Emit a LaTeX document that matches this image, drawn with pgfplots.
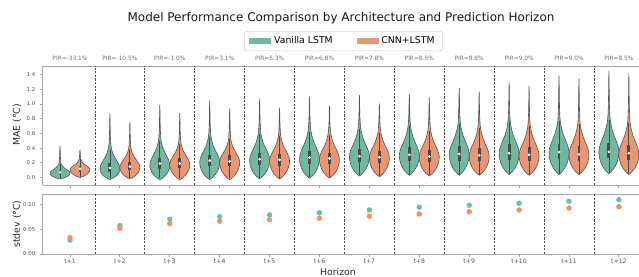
\documentclass[border=0pt]{standalone}
\usepackage{fontspec}
\setmainfont{DejaVu Sans}
\usepackage{pgfplots}
\usepackage{pgfplotstable}
\pgfplotsset{compat=1.18}
\definecolor{vgreen}{HTML}{72B7A1}
\definecolor{vorange}{HTML}{E99675}
\definecolor{sgreen}{HTML}{66C2A5}
\definecolor{sorange}{HTML}{FC8D62}
\definecolor{vedge}{HTML}{555555}
\definecolor{vbox}{HTML}{4A4A4A}
\definecolor{spine}{HTML}{A8A8A8}
\definecolor{tlab}{HTML}{555555}

% violin profile: s = side, w = relative half width, y = a*L + b*P + c*U + d*T
\pgfplotstableread{
s w a b c d
1 0 1 0 0 0
1 0.28 0.88 0.12 0 0
1 0.58 0.7 0.3 0 0
1 0.80 0.5 0.5 0 0
1 0.93 0.3 0.7 0 0
1 0.985 0.15 0.85 0 0
1 1 0 1 0 0
1 0.95 0 0.88 0.12 0
1 0.80 0 0.75 0.25 0
1 0.58 0 0.6 0.4 0
1 0.38 0 0.45 0.55 0
1 0.24 0 0.3 0.7 0
1 0.14 0 0.15 0.85 0
1 0.09 0 0 1 0
1 0.05 0 0 0.75 0.25
1 0.032 0 0 0.5 0.5
1 0.018 0 0 0.2 0.8
1 0 0 0 0 1
-1 0.018 0 0 0.2 0.8
-1 0.032 0 0 0.5 0.5
-1 0.05 0 0 0.75 0.25
-1 0.09 0 0 1 0
-1 0.14 0 0.15 0.85 0
-1 0.24 0 0.3 0.7 0
-1 0.38 0 0.45 0.55 0
-1 0.58 0 0.6 0.4 0
-1 0.80 0 0.75 0.25 0
-1 0.95 0 0.88 0.12 0
-1 1 0 1 0 0
-1 0.985 0.15 0.85 0 0
-1 0.93 0.3 0.7 0 0
-1 0.80 0.5 0.5 0 0
-1 0.58 0.7 0.3 0 0
-1 0.28 0.88 0.12 0 0
-1 0 1 0 0 0
}\vtemplate

\pgfplotstableread{
x y
0 0.028
1 0.057
2 0.070
3 0.075
4 0.0785
5 0.083
6 0.0885
7 0.094
8 0.098
9 0.102
10 0.106
11 0.109
}\sdgreen
\pgfplotstableread{
x y
0 0.033
1 0.052
2 0.061
3 0.066
4 0.069
5 0.072
6 0.076
7 0.0805
8 0.085
9 0.0885
10 0.0925
11 0.095
}\sdorange

% #1 centre, #2 colour, #3 bottom, #4 widest, #5 body top, #6 tail top
\newcommand{\vio}[6]{\addplot[draw=vedge, line width=0.45pt, fill=#2] table[x expr={#1+0.2*\thisrow{s}*\thisrow{w}}, y expr={\thisrow{a}*(#3)+\thisrow{b}*(#4)+\thisrow{c}*(#5)+\thisrow{d}*(#6)}]{\vtemplate};}
% #1 centre, #2 whisker low, #3 q1, #4 median, #5 q3, #6 whisker high
\newcommand{\vbx}[6]{%
\addplot[draw=vbox, line width=0.6pt] coordinates {(#1,#2) (#1,#6)};
\addplot[draw=vbox, line width=2.2pt] coordinates {(#1,#3) (#1,#5)};
\addplot[only marks, mark=*, mark size=0.8pt, draw=white, fill=white] coordinates {(#1,#4)};}

\pgfplotsset{
  common/.style={
    scale only axis, width=447pt,
    xmin=-0.541, xmax=11.403,
    axis x line*=box, axis y line*=left, separate axis lines,
    axis line style={-, draw=spine, line width=0.75pt},
    xtick={0,...,11}, xtick pos=bottom, ytick pos=left,
    tick align=outside, major tick length=2.2pt,
    tick style={draw=spine, line width=0.6pt},
    extra x ticks={0.5,1.5,...,10.5}, extra x tick labels={},
    extra x tick style={grid=major, major tick length=0pt,
      major grid style={draw=black!70, dash pattern=on 1.6pt off 1.1pt, line width=0.6pt}},
    /pgf/number format/assume math mode=true,
    yticklabel style={font=\fontsize{4.1}{5}\selectfont, text=tlab},
    xticklabel style={font=\fontsize{4.6}{5.5}\selectfont, text=tlab, inner sep=1.5pt},
    clip=false,
  }
}

\begin{document}
\begin{tikzpicture}
\begin{axis}[common,
  at={(32.25pt,68.25pt)}, anchor=south west, height=89.25pt,
  ymin=-0.102, ymax=1.517,
  ytick={0,0.2,...,1.4}, xticklabels={},
  yticklabel style={/pgf/number format/.cd, fixed, fixed zerofill, precision=1},
  legend style={at={(0.504,1)}, anchor=south, yshift=11.2pt, legend columns=2,
    draw=black!18, rounded corners=1.5pt, font=\fontsize{7}{8}\selectfont,
    inner xsep=3.8pt, inner ysep=1.8pt,
    /tikz/every even column/.append style={column sep=16pt}},
  legend image code/.code={\fill[#1, draw=none, sharp corners] (0pt,-2.3pt) rectangle (16.5pt,2.3pt);},
]
\addlegendimage{fill=vgreen}
\addlegendentry{Vanilla LSTM}
\addlegendimage{fill=vorange}
\addlegendentry{CNN+LSTM}

\vio{-0.2}{vgreen}{-0.02}{0.06}{0.20}{0.43}
\vio{0.8}{vgreen}{-0.03}{0.12}{0.45}{0.87}
\vio{1.8}{vgreen}{-0.03}{0.17}{0.55}{0.99}
\vio{2.8}{vgreen}{-0.03}{0.21}{0.60}{1.05}
\vio{3.8}{vgreen}{-0.02}{0.24}{0.65}{1.07}
\vio{4.8}{vgreen}{-0.01}{0.26}{0.70}{1.10}
\vio{5.8}{vgreen}{0.02}{0.29}{0.72}{1.125}
\vio{6.8}{vgreen}{0.03}{0.30}{0.75}{1.14}
\vio{7.8}{vgreen}{0.03}{0.32}{0.78}{1.22}
\vio{8.8}{vgreen}{0.04}{0.33}{0.80}{1.30}
\vio{9.8}{vgreen}{0.04}{0.34}{0.82}{1.385}
\vio{10.8}{vgreen}{0.05}{0.35}{0.85}{1.45}

\vio{0.2}{vorange}{0.00}{0.11}{0.25}{0.38}
\vio{1.2}{vorange}{-0.02}{0.14}{0.42}{0.76}
\vio{2.2}{vorange}{-0.03}{0.18}{0.50}{0.875}
\vio{3.2}{vorange}{-0.03}{0.21}{0.55}{0.94}
\vio{4.2}{vorange}{-0.02}{0.23}{0.60}{0.95}
\vio{5.2}{vorange}{-0.01}{0.25}{0.65}{0.975}
\vio{6.2}{vorange}{0.01}{0.27}{0.68}{1.01}
\vio{7.2}{vorange}{0.02}{0.28}{0.70}{1.09}
\vio{8.2}{vorange}{0.03}{0.29}{0.73}{1.17}
\vio{9.2}{vorange}{0.03}{0.30}{0.75}{1.25}
\vio{10.2}{vorange}{0.04}{0.31}{0.78}{1.35}
\vio{11.2}{vorange}{0.04}{0.32}{0.80}{1.42}

\vbx{-0.2}{0.0}{0.04}{0.07}{0.10}{0.19}
\vbx{0.8}{0.0}{0.08}{0.13}{0.20}{0.38}
\vbx{1.8}{0.0}{0.12}{0.19}{0.27}{0.495}
\vbx{2.8}{0.0}{0.15}{0.23}{0.31}{0.55}
\vbx{3.8}{0.0}{0.17}{0.25}{0.34}{0.595}
\vbx{4.8}{0.01}{0.19}{0.27}{0.36}{0.615}
\vbx{5.8}{0.03}{0.21}{0.29}{0.39}{0.66}
\vbx{6.8}{0.04}{0.22}{0.31}{0.41}{0.695}
\vbx{7.8}{0.04}{0.23}{0.32}{0.43}{0.73}
\vbx{8.8}{0.05}{0.24}{0.33}{0.45}{0.765}
\vbx{9.8}{0.05}{0.25}{0.345}{0.46}{0.775}
\vbx{10.8}{0.06}{0.26}{0.35}{0.47}{0.785}

\vbx{0.2}{0.01}{0.08}{0.12}{0.15}{0.255}
\vbx{1.2}{0.0}{0.10}{0.15}{0.21}{0.375}
\vbx{2.2}{0.0}{0.13}{0.19}{0.26}{0.455}
\vbx{3.2}{0.0}{0.15}{0.22}{0.30}{0.525}
\vbx{4.2}{0.0}{0.16}{0.24}{0.32}{0.56}
\vbx{5.2}{0.01}{0.18}{0.26}{0.34}{0.58}
\vbx{6.2}{0.02}{0.20}{0.275}{0.36}{0.60}
\vbx{7.2}{0.03}{0.21}{0.285}{0.38}{0.635}
\vbx{8.2}{0.04}{0.22}{0.30}{0.40}{0.67}
\vbx{9.2}{0.04}{0.23}{0.31}{0.42}{0.705}
\vbx{10.2}{0.05}{0.23}{0.315}{0.43}{0.73}
\vbx{11.2}{0.05}{0.24}{0.33}{0.44}{0.74}

\begin{scope}[every node/.style={font=\fontsize{4.4}{5}\selectfont, text=black!55}]
\node at (axis cs:0,1.626) {PIR=-33.1\%};
\node at (axis cs:1,1.626) {PIR=-10.5\%};
\node at (axis cs:2,1.626) {PIR=-1.0\%};
\node at (axis cs:3,1.626) {PIR=3.1\%};
\node at (axis cs:4,1.626) {PIR=5.3\%};
\node at (axis cs:5,1.626) {PIR=6.8\%};
\node at (axis cs:6,1.626) {PIR=7.8\%};
\node at (axis cs:7,1.626) {PIR=8.5\%};
\node at (axis cs:8,1.626) {PIR=8.8\%};
\node at (axis cs:9,1.626) {PIR=9.0\%};
\node at (axis cs:10,1.626) {PIR=9.0\%};
\node at (axis cs:11,1.626) {PIR=8.5\%};
\end{scope}
\end{axis}

\begin{axis}[common,
  at={(32.25pt,16.5pt)}, anchor=south west, height=44.78pt,
  ymin=0, ymax=0.12, ytick={0,0.05,0.1},
  yticklabel style={/pgf/number format/.cd, fixed, fixed zerofill, precision=2},
  xticklabels={t+1,t+2,t+3,t+4,t+5,t+6,t+7,t+8,t+9,t+10,t+11,t+12},
]
\addplot[only marks, mark=*, mark size=1.8pt, draw=sgreen, fill=sgreen] table[x=x,y=y]{\sdgreen};
\addplot[only marks, mark=*, mark size=1.8pt, draw=sorange, fill=sorange] table[x=x,y=y]{\sdorange};
\end{axis}

\node[font=\fontsize{9}{10}\selectfont, text=black!90] at (255.75pt,193.5pt) {Model Performance Comparison by Architecture and Prediction Horizon};
\node[rotate=90, font=\fontsize{7}{8}\selectfont, text=black!85] at (12.75pt,113.25pt) {MAE (°C)};
\node[rotate=90, font=\fontsize{7}{8}\selectfont, text=black!85] at (12.75pt,39pt) {stdev (°C)};
\node[font=\fontsize{7}{8}\selectfont, text=black!85] at (253.5pt,3.2pt) {Horizon};

\pgfresetboundingbox
\path[use as bounding box] (0,0) rectangle (479.25pt,207pt);
\end{tikzpicture}
\end{document}
